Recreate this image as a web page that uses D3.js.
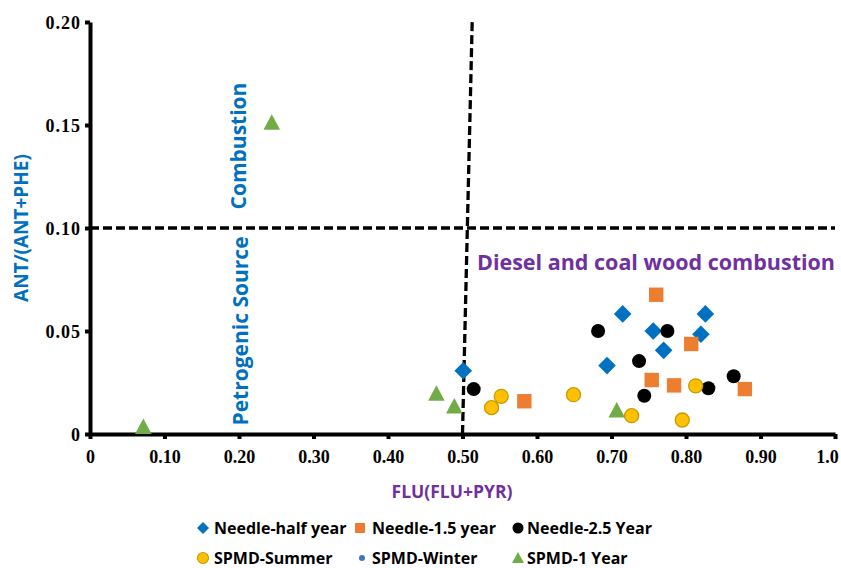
<!DOCTYPE html>
<html>
<head>
<meta charset="utf-8">
<title>FLU/(FLU+PYR) vs ANT/(ANT+PHE)</title>
<style>
  body { margin: 0; background: #fff; }
  .tick text { font-family: "Liberation Serif", "Times New Roman", serif; font-weight: bold; font-size: 18px; fill: #000; }
  .lbl { font-family: "Open Sans", "Noto Sans", sans-serif; font-weight: bold; }
</style>
</head>
<body>
<script src="https://d3js.org/d3.v7.min.js"></script>
<script>
// series values [FLU/(FLU+PYR), ANT/(ANT+PHE)]
var needleHalf = [[0.501, 0.0307], [0.715, 0.0583], [0.694, 0.0332], [0.756, 0.050], [0.770, 0.0406], [0.820, 0.0484], [0.826, 0.0583]];
var needle15 = [[0.583, 0.0159], [0.754, 0.0262], [0.760, 0.0676], [0.784, 0.0236], [0.807, 0.0437], [0.879, 0.0218]];
var needle25 = [[0.515, 0.0218], [0.682, 0.050], [0.775, 0.050], [0.737, 0.0354], [0.744, 0.0186], [0.830, 0.0222], [0.864, 0.028]];
var spmdSummer = [[0.539, 0.0128], [0.552, 0.0183], [0.649, 0.0191], [0.727, 0.0089], [0.813, 0.0234], [0.795, 0.0068]];
var spmdWinter = [];
var spmd1Year = [[0.707, 0.0117], [0.489, 0.0136], [0.465, 0.0198], [0.0716, 0.0036], [0.244, 0.1513]];

// tick labels
var xTicks = [0, 0.1, 0.2, 0.3, 0.4, 0.5, 0.6, 0.7, 0.8, 0.9, 1.0];
var xTickLabels = ["0", "0.10", "0.20", "0.30", "0.40", "0.50", "0.60", "0.70", "0.80", "0.90", "1.0"];
var yTicks = [0, 0.05, 0.10, 0.15, 0.20];
var yTickLabels = ["0", "0.05", "0.10", "0.15", "0.20"];

// threshold lines
var hLine = [[0, 0.1], [1.0, 0.1]];
var vLine = [[0.5, 0], [0.513, 0.2]];

var width = 841, height = 568;
var svg = d3.select("body").append("svg")
    .attr("width", width)
    .attr("height", height);

var x = d3.scaleLinear().domain([0, 1]).range([90, 835]);
var y = d3.scaleLinear().domain([0, 0.2]).range([434, 22]);

// dashed lines
var line = d3.line()
    .x(function(d) { return x(d[0]); })
    .y(function(d) { return y(d[1]); });
[hLine, vLine].forEach(function(l) {
  svg.append("path")
      .attr("d", line(l))
      .attr("fill", "none")
      .attr("stroke", "#000")
      .attr("stroke-width", 3.3)
      .attr("stroke-dasharray", "9,4");
});

// axes
var xAxis = d3.axisBottom(x)
    .tickValues(xTicks)
    .tickFormat(function(d, i) { return xTickLabels[i]; })
    .tickSizeInner(5).tickSizeOuter(0).tickPadding(8);
var yAxis = d3.axisLeft(y)
    .tickValues(yTicks)
    .tickFormat(function(d, i) { return yTickLabels[i]; })
    .tickSizeInner(5).tickSizeOuter(0).tickPadding(4);

var gx = svg.append("g").attr("transform", "translate(0," + y(0) + ")").call(xAxis);
var gy = svg.append("g").attr("transform", "translate(" + x(0) + ",0)").call(yAxis);
[gx, gy].forEach(function(g) {
  g.select(".domain").attr("stroke", "#000").attr("stroke-width", 4);
  g.selectAll(".tick line").attr("stroke", "#000").attr("stroke-width", 4);
});
gx.selectAll(".tick text").attr("dy", "0.9em")
    .attr("dx", function(d, i) { return i === xTicks.length - 1 ? -8 : 0; });
gy.selectAll(".tick text").attr("dy", "0.34em").attr("letter-spacing", 1);

// marker shapes
var tri = "M0,-8L8.3,7.5L-8.3,7.5Z";
function diamond(s) { return "M0," + (-s) + "L" + s + ",0L0," + s + "L" + (-s) + ",0Z"; }

function drawSeries(data, draw) {
  var g = svg.append("g");
  data.forEach(function(d) {
    draw(g.append("g").attr("transform", "translate(" + x(d[0]) + "," + y(d[1]) + ")"));
  });
}

drawSeries(needleHalf, function(g) {
  g.append("path").attr("d", diamond(8.8)).attr("fill", "#0070C0");
});
drawSeries(needle15, function(g) {
  g.append("rect").attr("x", -7.2).attr("y", -7.2).attr("width", 14.4).attr("height", 14.4).attr("fill", "#ED7D31");
});
drawSeries(needle25, function(g) {
  g.append("circle").attr("r", 7).attr("fill", "#000");
});
drawSeries(spmdSummer, function(g) {
  g.append("circle").attr("r", 7).attr("fill", "#FFC000").attr("stroke", "#C99A00").attr("stroke-width", 1.3);
});
drawSeries(spmdWinter, function(g) {
  g.append("circle").attr("r", 3.5).attr("fill", "#4472C4");
});
drawSeries(spmd1Year, function(g) {
  g.append("path").attr("d", tri).attr("fill", "#70AD47");
});

// labels
svg.append("text").attr("class", "lbl")
    .attr("transform", "translate(28,228) rotate(-90)")
    .attr("text-anchor", "middle")
    .attr("font-size", 19).attr("fill", "#0070C0")
    .text("ANT/(ANT+PHE)");
svg.append("text").attr("class", "lbl")
    .attr("x", 452).attr("y", 498)
    .attr("text-anchor", "middle")
    .attr("font-size", 17.5).attr("fill", "#7030A0")
    .text("FLU(FLU+PYR)");
svg.append("text").attr("class", "lbl")
    .attr("transform", "translate(246,146) rotate(-90)")
    .attr("text-anchor", "middle")
    .attr("font-size", 21).attr("fill", "#0070C0")
    .text("Combustion");
svg.append("text").attr("class", "lbl")
    .attr("transform", "translate(248,331) rotate(-90)")
    .attr("text-anchor", "middle")
    .attr("font-size", 21).attr("fill", "#0070C0")
    .text("Petrogenic Source");
svg.append("text").attr("class", "lbl")
    .attr("x", 477).attr("y", 270)
    .attr("font-size", 21.5).attr("fill", "#7030A0")
    .text("Diesel and coal wood combustion");

// legend
var legendItems = ["Needle-half year", "Needle-1.5 year", "Needle-2.5 Year", "SPMD-Summer", "SPMD-Winter", "SPMD-1 Year"];
var legX = [203, 360, 518, 203, 362, 518];
var legTextX = [214, 372, 527, 214, 372, 527];
var legY = [528, 528, 528, 558, 558, 558];
var legend = svg.append("g");
legendItems.forEach(function(name, i) {
  var g = legend.append("g").attr("transform", "translate(" + legX[i] + "," + legY[i] + ")");
  if (i === 0) g.append("path").attr("d", diamond(6)).attr("fill", "#0070C0");
  if (i === 1) g.append("rect").attr("x", -5).attr("y", -5).attr("width", 10).attr("height", 10).attr("fill", "#ED7D31");
  if (i === 2) g.append("circle").attr("r", 5.5).attr("fill", "#000");
  if (i === 3) g.append("circle").attr("r", 5.5).attr("fill", "#FFC000").attr("stroke", "#C99A00").attr("stroke-width", 1.2);
  if (i === 4) g.append("circle").attr("r", 3).attr("fill", "#4472C4");
  if (i === 5) g.append("path").attr("d", "M0,-6L6,5L-6,5Z").attr("fill", "#70AD47");
  legend.append("text").attr("class", "lbl")
      .attr("x", legTextX[i]).attr("y", legY[i])
      .attr("dy", "0.35em")
      .attr("font-size", 16).attr("fill", "#000")
      .text(name);
});
</script>
</body>
</html>
